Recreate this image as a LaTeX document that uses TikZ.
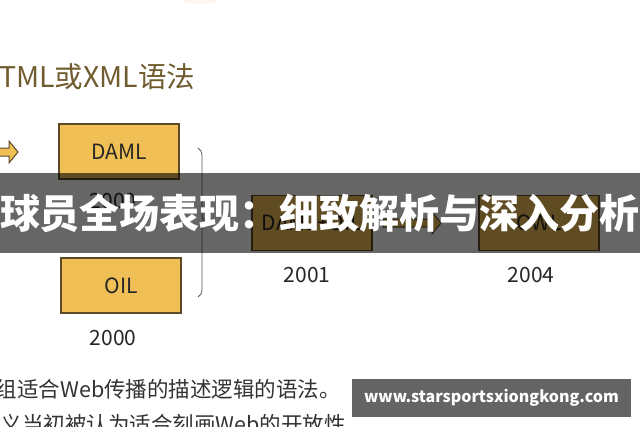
\documentclass[tikz,border=0pt]{standalone}
\usepackage{fontspec}
\setmainfont{Noto Sans CJK SC}
\usepackage{tikz}
\usetikzlibrary{positioning, decorations.pathreplacing}
\usepackage{xcolor}
\definecolor{boxfill}{HTML}{F0BF55}
\definecolor{boxline}{HTML}{5A4A28}
\definecolor{titlebrown}{HTML}{705C2E}
\definecolor{textgray}{HTML}{333333}
\definecolor{bandgray}{HTML}{646464}

\begin{document}
\begin{tikzpicture}[x=1pt, y=-1pt]
    \tikzstyle{entity} = [rectangle, minimum width=120pt, minimum height=55pt, inner sep=0pt, fill=boxfill, draw=boxline, line width=1.1pt, text=black!85, font=\fontsize{21}{21}\selectfont]
    \tikzstyle{year} = [text=black!85, font=\fontsize{21}{21}\selectfont]
    \tikzstyle{blockarrow} = [fill=boxfill, draw=boxline, line width=1pt, line join=miter]

    \clip (0,0) rectangle (640,426);
    \fill[white] (0,0) rectangle (640,426);
    \fill[orange!7] (200,-48) circle (52);

    \node (title)[anchor=west, inner sep=0pt, text=titlebrown, font=\fontsize{28.5}{28.5}\selectfont] at (-1,77) {TML或XML语法};

    \node (daml)[entity] at (119,151.5) {DAML};
    \node (y1)[year, below of=daml, node distance=50pt, xshift=-6pt] {2000};
    \node (oil)[entity, below of=daml, node distance=134pt, xshift=2pt] {OIL};
    \node (y2)[year, below of=oil, node distance=52.5pt, xshift=-8pt] {2000};
    \node (doil)[entity, right of=daml, node distance=193pt, yshift=-71.5pt] {DAML+OIL};
    \node (y3)[year, below of=doil, node distance=52pt, xshift=-5pt] {2001};
    \node (owl)[entity, right of=doil, node distance=227pt] {OWL};
    \node (y4)[year, below of=owl, node distance=52pt, xshift=-8pt] {2004};

    \draw [blockarrow] (-10,148) -- (9,148) -- (9,141) -- (18,152) -- (9,163) -- (9,156) -- (-10,156) -- cycle;
    \draw [blockarrow] (383,219) -- (432,219) -- (432,212) -- (441,223) -- (432,234) -- (432,227) -- (383,227) -- cycle;

    \coordinate (btop) at (198,148);
    \coordinate (bbot) at (198,297);
    \draw [decorate, decoration={brace, amplitude=8pt}, draw=black!65, line width=0.8pt] (btop) -- (bbot);

    \node (line1)[anchor=east, inner sep=0pt, text=textgray, font=\fontsize{21.5}{21.5}\selectfont] at (341,389) {组适合Web传播的描述逻辑的语法。};
    \node (line2)[anchor=east, inner sep=0pt, text=textgray, font=\fontsize{21.5}{21.5}\selectfont] at (346,424) {义当初被认为适合刻画Web的开放性};

    \node (band)[fill=black, fill opacity=0.6, text opacity=1, text=white, minimum width=640pt, minimum height=80pt, inner sep=0pt, font=\bfseries\fontsize{40}{40}\selectfont] at (320,213) {球员全场表现：细致解析与深入分析};
    \node (site)[fill=bandgray, minimum width=279pt, minimum height=38pt, inner sep=0pt, text=white, font=\bfseries\fontsize{16}{16}\selectfont] at (491.5,397.5) {www.starsportsxiongkong.com};
\end{tikzpicture}
\end{document}
